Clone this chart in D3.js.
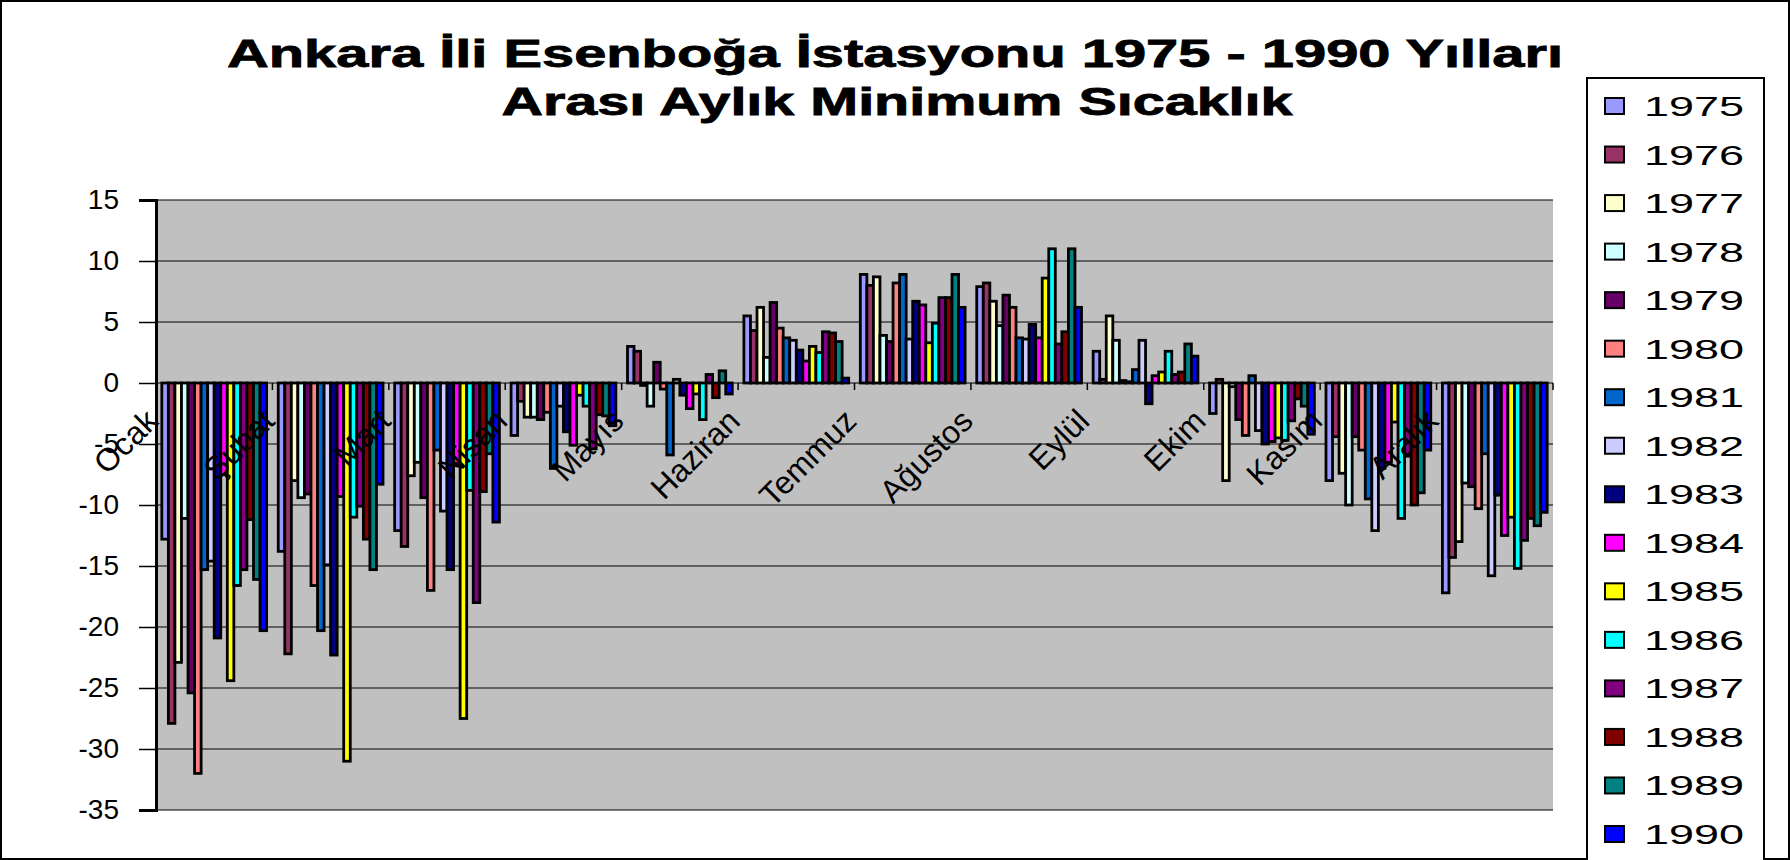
<!DOCTYPE html>
<html><head><meta charset="utf-8">
<script src="https://cdn.jsdelivr.net/npm/d3@7"></script>
<style>body{margin:0;background:#fff;} svg{display:block;font-family:"Liberation Sans",Arial,sans-serif;}</style>
</head><body>
<svg id="c" width="1790" height="860"></svg>
<script>
const titleLines = ["Ankara İli Esenboğa İstasyonu 1975 - 1990 Yılları", "Arası Aylık Minimum Sıcaklık"];
const months = ["Ocak","Şubat","Mart","Nisan","Mayıs","Haziran","Temmuz","Ağustos","Eylül","Ekim","Kasım","Aralık"];
const years = ["1975","1976","1977","1978","1979","1980","1981","1982","1983","1984","1985","1986","1987","1988","1989","1990"];
const yTicks = [15,10,5,0,-5,-10,-15,-20,-25,-30,-35];
// monthly minimum temperatures per year (Ocak..Aralık)
const y1975 = [-12.8,-13.8,-12.1,-4.3, 3.0,5.5,8.9,7.9, 2.6,-2.5,-8.0,-17.2];
const y1976 = [-27.9,-22.2,-13.4,-1.5, 2.6,4.3,8.0,8.2, 0.3, 0.3,-4.4,-14.3];
const y1977 = [-22.9,-8.0,-7.6,-2.8,-0.2,6.2,8.7,6.7, 5.5,-8.0,-7.4,-13.0];
const y1978 = [-11.1,-9.4,-6.5,-2.8,-1.9,2.1,3.9,4.7, 3.5,-0.3,-10.0,-8.2];
const y1979 = [-25.4,-9.1,-9.4,-3.0, 1.7,6.6,3.4,7.2, 0.2,-3.0,-4.4,-8.5];
const y1980 = [-32.0,-16.6,-17.0,-2.4,-0.5,4.5,8.2,6.2, 0.1,-4.3,-5.5,-10.3];
const y1981 = [-15.3,-20.3,-5.5,-7.0,-5.9,3.7,8.9,3.7, 1.1, 0.6,-9.5,-5.8];
const y1982 = [-14.6,-14.9,-10.5,-1.9, 0.3,3.5,3.6,3.6, 3.5,-3.9,-12.1,-15.8];
const y1983 = [-20.9,-22.3,-15.3,-4.0,-1.0,2.7,6.7,4.8,-1.7,-5.0,-7.0,-9.2];
const y1984 = [-7.5,-9.3,-6.6,-5.1,-2.1,1.8,6.4,3.7, 0.6,-4.8,-6.5,-12.5];
const y1985 = [-24.4,-31.0,-27.5,-1.0,-0.9,3.0,3.3,8.6, 0.9,-4.5,-3.2,-11.0];
const y1986 = [-16.6,-11.0,-8.8,-1.9,-3.0,2.5,4.9,11.0, 2.6,-4.7,-11.1,-15.2];
const y1987 = [-15.3,-10.1,-18.0,-5.4, 0.7,4.2,7.0,3.2, 0.7,-3.1,-6.0,-12.9];
const y1988 = [-11.2,-12.8,-8.9,-2.6,-1.2,4.1,7.0,4.2, 0.9,-1.3,-10.0,-11.1];
const y1989 = [-16.1,-15.3,-5.8,-2.7, 1.0,3.4,8.9,11.0, 3.2,-1.9,-9.0,-11.7];
const y1990 = [-20.3,-8.3,-11.4,-3.5,-0.9,0.4,6.2,6.2, 2.2,-4.2,-5.5,-10.6];
const seriesValues = [y1975,y1976,y1977,y1978,y1979,y1980,y1981,y1982,y1983,y1984,y1985,y1986,y1987,y1988,y1989,y1990];
const colors = ["#9999FF","#993366","#FFFFCC","#CCFFFF","#660066","#FF8080","#0066CC","#CCCCFF","#000080","#FF00FF","#FFFF00","#00FFFF","#800080","#800000","#008080","#0000FF"];

const svg = d3.select("#c");
const W = 1790, H = 860;
const plot = {l:156, r:1553, t:200, b:810};

svg.append("rect").attr("x",1).attr("y",1).attr("width",W-2).attr("height",H-2)
  .attr("fill","#fff").attr("stroke","#000").attr("stroke-width",2);

const x0 = d3.scaleBand().domain(months).range([plot.l, plot.r]).paddingInner(0.1).paddingOuter(0.05);
const x1 = d3.scaleBand().domain(years).range([0, x0.bandwidth()]).padding(0);
const y = d3.scaleLinear().domain([-35,15]).range([plot.b, plot.t]);

// plot background
svg.append("rect").attr("x",plot.l).attr("y",plot.t).attr("width",plot.r-plot.l).attr("height",plot.b-plot.t)
  .attr("fill","#C0C0C0");

// gridlines
svg.append("g").selectAll("line").data(yTicks).join("line")
  .attr("x1",plot.l).attr("x2",plot.r).attr("y1",d=>y(d)).attr("y2",d=>y(d))
  .attr("stroke","#000").attr("stroke-width",1.2);

// y axis
const yAxis = d3.axisLeft(y).tickValues(yTicks).tickSize(17).tickPadding(20).tickFormat(d=>String(d));
const ga = svg.append("g").attr("transform",`translate(${plot.l},0)`).call(yAxis);
ga.select(".domain").attr("stroke","#000").attr("stroke-width",3);
ga.selectAll(".tick line").attr("stroke","#000").attr("stroke-width",1.5);
ga.selectAll(".tick text").attr("font-size",28).attr("fill","#000")
  .attr("font-family","'Liberation Sans',Arial,sans-serif");

// category boundary ticks at zero
const bounds = months.map(m => x0(m) - x0.step()*x0.paddingInner()/2).concat([plot.r]);
svg.append("g").selectAll("line").data(bounds).join("line")
  .attr("x1",d=>d).attr("x2",d=>d).attr("y1",y(0)).attr("y2",y(0)+7)
  .attr("stroke","#000").attr("stroke-width",1.5);

// bars
const flat = [];
years.forEach((yr,i)=>months.forEach((m,j)=>flat.push({yr, m, v:seriesValues[i][j], c:colors[i]})));
svg.append("g").selectAll("rect").data(flat).join("rect")
  .attr("x", d=>x0(d.m)+x1(d.yr))
  .attr("width", x1.bandwidth())
  .attr("y", d=>y(Math.max(0,d.v)))
  .attr("height", d=>Math.abs(y(d.v)-y(0)))
  .attr("fill", d=>d.c).attr("stroke","#000").attr("stroke-width",2.8);

// category labels
svg.append("g").selectAll("text").data(months).join("text")
  .attr("transform", m=>`translate(${x0(m)-2},${y(0)+40}) rotate(-45)`)
  .attr("text-anchor","end").attr("font-size",32).attr("fill","#000").text(m=>m);

// title
const tl = svg.append("g").attr("font-weight","bold").attr("font-size",39).attr("fill","#000")
  .attr("stroke","#000").attr("stroke-width",0.8);
tl.append("text").attr("x",895).attr("y",67).attr("text-anchor","middle")
  .attr("textLength",1336).attr("lengthAdjust","spacingAndGlyphs").text(titleLines[0]);
tl.append("text").attr("x",897).attr("y",115).attr("text-anchor","middle")
  .attr("textLength",791).attr("lengthAdjust","spacingAndGlyphs").text(titleLines[1]);

// legend
const lg = svg.append("g");
lg.append("rect").attr("x",1587).attr("y",78).attr("width",177).attr("height",800)
  .attr("fill","#fff").attr("stroke","#000").attr("stroke-width",2);
const ly = d3.scalePoint().domain(years).range([106, 834]);
const li = lg.selectAll("g.item").data(years).join("g").attr("class","item")
  .attr("transform", d=>`translate(0,${ly(d)})`);
li.append("rect").attr("x",1605).attr("y",-8).attr("width",19).attr("height",16)
  .attr("fill",(d,i)=>colors[i]).attr("stroke","#000").attr("stroke-width",2);
li.append("text").attr("x",1644).attr("y",10).attr("font-size",28).attr("fill","#000")
  .attr("textLength",100).attr("lengthAdjust","spacingAndGlyphs").text(d=>d);
</script>
</body></html>
